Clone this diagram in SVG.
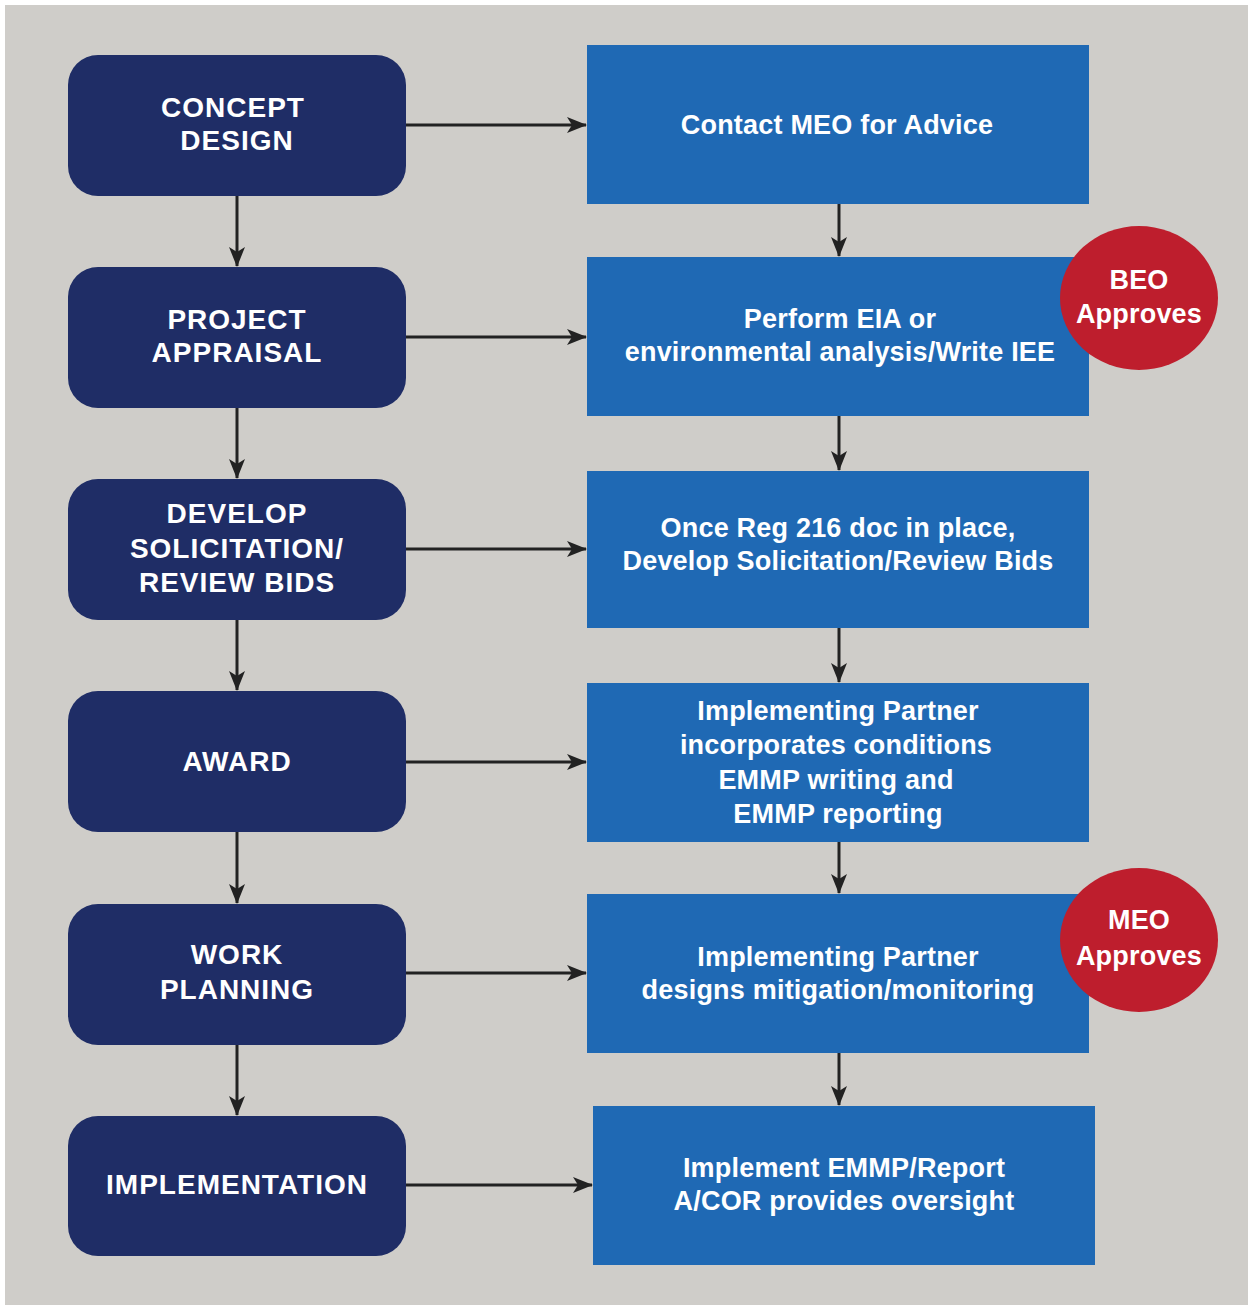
<svg xmlns="http://www.w3.org/2000/svg" width="1248" height="1305" viewBox="0 0 1248 1305">
<defs>
<marker id="ah" viewBox="0 0 20 16" refX="19" refY="8" markerWidth="20" markerHeight="16" markerUnits="userSpaceOnUse" orient="auto">
<path d="M0,0 L20,8 L0,16 L5,8 Z" fill="#222"/>
</marker>
<style>
.l{fill:#1f2d66}
.r{fill:#1f69b4}
.c{fill:#be1e2d}
.t{font-family:"Liberation Sans",Arial,sans-serif;font-size:27px;font-weight:bold;fill:#fff;text-anchor:middle;dominant-baseline:central;letter-spacing:0.2px}
.lt{font-size:28px;letter-spacing:1px}
.e{stroke:#222;stroke-width:3;fill:none;marker-end:url(#ah)}
</style>
</defs>
<rect width="1248" height="1305" fill="#fff"/>
<rect x="5" y="5" width="1243" height="1300" fill="#cfcdc9"/>
<g id="connectors">
<path class="e" d="M406,125 H586"/>
<path class="e" d="M406,337 H586"/>
<path class="e" d="M406,549 H586"/>
<path class="e" d="M406,762 H586"/>
<path class="e" d="M406,973 H586"/>
<path class="e" d="M406,1185 H592"/>
<path class="e" d="M237,196 V266"/>
<path class="e" d="M237,408 V478"/>
<path class="e" d="M237,620 V690"/>
<path class="e" d="M237,832 V903"/>
<path class="e" d="M237,1045 V1115"/>
<path class="e" d="M839,204 V256"/>
<path class="e" d="M839,416 V470"/>
<path class="e" d="M839,628 V682"/>
<path class="e" d="M839,842 V893"/>
<path class="e" d="M839,1053 V1105"/>
</g>
<g id="concept"><rect class="l" x="68" y="55" width="338" height="141" rx="30"/><text class="t lt"><tspan x="233" y="107">CONCEPT</tspan><tspan x="237" y="140">DESIGN</tspan></text></g>
<g id="appraisal"><rect class="l" x="68" y="267" width="338" height="141" rx="30"/><text class="t lt"><tspan x="237" y="319">PROJECT</tspan><tspan x="237" y="352">APPRAISAL</tspan></text></g>
<g id="solicitation"><rect class="l" x="68" y="479" width="338" height="141" rx="30"/><text class="t lt"><tspan x="237" y="513">DEVELOP</tspan><tspan x="237" y="548">SOLICITATION/</tspan><tspan x="237" y="582">REVIEW BIDS</tspan></text></g>
<g id="award"><rect class="l" x="68" y="691" width="338" height="141" rx="30"/><text class="t lt" x="237" y="761">AWARD</text></g>
<g id="workplanning"><rect class="l" x="68" y="904" width="338" height="141" rx="30"/><text class="t lt"><tspan x="237" y="954">WORK</tspan><tspan x="237" y="989">PLANNING</tspan></text></g>
<g id="implementation"><rect class="l" x="68" y="1116" width="338" height="140" rx="30"/><text class="t lt" x="237" y="1184">IMPLEMENTATION</text></g>
<g id="contact"><rect class="r" x="587" y="45" width="502" height="159"/><text class="t" x="837" y="125">Contact MEO for Advice</text></g>
<g id="eia"><rect class="r" x="587" y="257" width="502" height="159"/><text class="t"><tspan x="840" y="319">Perform EIA or</tspan><tspan x="840" y="352">environmental analysis/Write IEE</tspan></text></g>
<g id="reg216"><rect class="r" x="587" y="471" width="502" height="157"/><text class="t"><tspan x="838" y="528">Once Reg 216 doc in place,</tspan><tspan x="838" y="561">Develop Solicitation/Review Bids</tspan></text></g>
<g id="partner"><rect class="r" x="587" y="683" width="502" height="159"/><text class="t"><tspan x="838" y="711">Implementing Partner</tspan><tspan x="836" y="745">incorporates conditions</tspan><tspan x="836" y="780">EMMP writing and</tspan><tspan x="838" y="814">EMMP reporting</tspan></text></g>
<g id="mitigation"><rect class="r" x="587" y="894" width="502" height="159"/><text class="t"><tspan x="838" y="957">Implementing Partner</tspan><tspan x="838" y="990">designs mitigation/monitoring</tspan></text></g>
<g id="emmp"><rect class="r" x="593" y="1106" width="502" height="159"/><text class="t"><tspan x="844" y="1168">Implement EMMP/Report</tspan><tspan x="844" y="1201">A/COR provides oversight</tspan></text></g>
<g id="beo"><ellipse class="c" cx="1139" cy="298" rx="79" ry="72"/><text class="t"><tspan x="1139" y="280">BEO</tspan><tspan x="1139" y="314">Approves</tspan></text></g>
<g id="meo"><ellipse class="c" cx="1139" cy="940" rx="79" ry="72"/><text class="t"><tspan x="1139" y="920">MEO</tspan><tspan x="1139" y="956">Approves</tspan></text></g>
</svg>
